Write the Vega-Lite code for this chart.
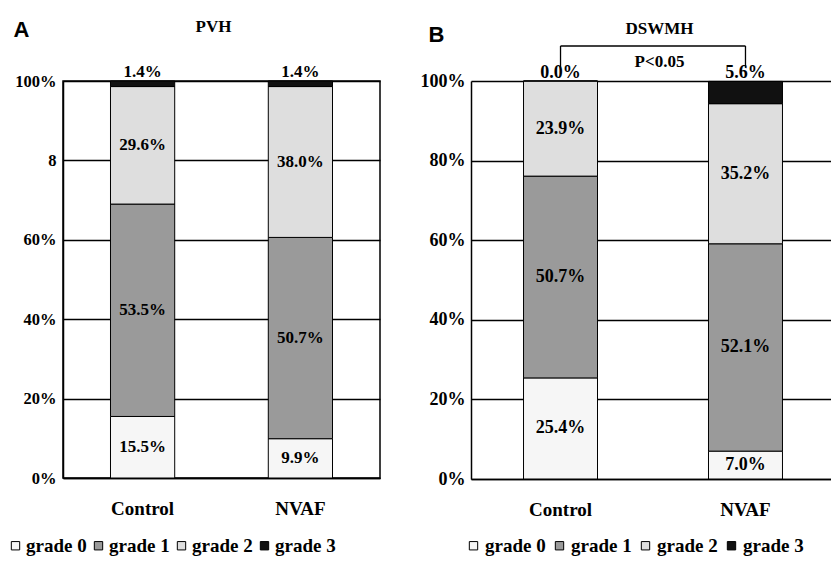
{
  "$schema": "https://vega.github.io/schema/vega-lite/v6.json",
  "padding": {"left": 5, "top": 16, "right": 0, "bottom": 0},
  "background": "white",
  "config": {
    "font": "Liberation Serif",
    "axis": {"labelColor": "black", "titleColor": "black"},
    "legend": {"labelColor": "black"}
  },
  "spacing": 39,
  "resolve": {"legend": {"color": "independent"}},
  "hconcat": [
    {
      "width": 317,
      "height": 397,
      "view": {"stroke": "black", "strokeWidth": 1.5},
      "data": {"values": [
        {"group": "Control", "grade": "grade 0", "pct": 15.5},
        {"group": "Control", "grade": "grade 1", "pct": 53.5},
        {"group": "Control", "grade": "grade 2", "pct": 29.6},
        {"group": "Control", "grade": "grade 3", "pct": 1.4},
        {"group": "NVAF", "grade": "grade 0", "pct": 9.9},
        {"group": "NVAF", "grade": "grade 1", "pct": 50.7},
        {"group": "NVAF", "grade": "grade 2", "pct": 38.0},
        {"group": "NVAF", "grade": "grade 3", "pct": 1.4}
      ]},
      "resolve": {"axis": {"x": "independent"}},
      "layer": [
        {
          "mark": {"type": "bar", "stroke": "black", "strokeWidth": 1},
          "encoding": {
            "x": {"field": "group", "type": "nominal", "sort": ["Control", "NVAF"],
              "scale": {"paddingInner": 0.593, "paddingOuter": 0.301},
              "axis": {"orient": "bottom", "title": null, "labelAngle": 0, "ticks": false, "labelPadding": 21,
                "labelFont": "Liberation Serif", "labelFontWeight": "bold", "labelFontSize": 19,
                "domainColor": "black", "domainWidth": 1.5}},
            "y": {"field": "pct", "type": "quantitative", "stack": "zero",
              "scale": {"domain": [0, 100], "nice": false},
              "axis": {"values": [0, 20, 40, 60, 80, 100],
                "labelExpr": "datum.value == 80 ? '8' : datum.value + '%'",
                "labelFont": "Liberation Serif", "labelFontWeight": "bold", "labelFontSize": 16.5,
                "labelPadding": 7, "ticks": false, "domainColor": "black", "domainWidth": 1.5,
                "grid": true, "gridColor": "black", "gridWidth": 1.3, "gridOpacity": 1,
                "title": "A", "titleAngle": 0, "titleFont": "Liberation Sans", "titleFontSize": 22,
                "titleFontWeight": "bold", "titleX": -50, "titleY": -45, "titleAlign": "left",
                "titleBaseline": "alphabetic"}},
            "color": {"field": "grade", "type": "nominal",
              "scale": {"domain": ["grade 0", "grade 1", "grade 2", "grade 3"],
                "range": ["#f6f6f6", "#9a9a9a", "#dedede", "#111111"]},
              "legend": {"orient": "none", "legendX": -57, "legendY": 455, "direction": "horizontal",
                "title": null, "symbolType": "square", "symbolSize": 70, "symbolStrokeColor": "black",
                "symbolStrokeWidth": 1, "labelFont": "Liberation Serif", "labelFontWeight": "bold",
                "labelFontSize": 19, "labelOffset": 1, "columnPadding": 2}},
            "order": {"field": "grade", "type": "ordinal", "sort": "ascending"}
          }
        },
        {
          "mark": {"type": "text", "opacity": 0},
          "encoding": {
            "x": {"field": "group", "type": "nominal", "sort": ["Control", "NVAF"],
              "axis": {"orient": "top", "title": "PVH", "labels": false, "ticks": false, "domain": false,
                "titleFont": "Liberation Serif", "titleFontWeight": "bold", "titleFontSize": 17,
                "titleX": 150, "titleY": -50, "titleAlign": "center", "titleBaseline": "alphabetic"}},
            "text": {"value": ""}
          }
        },
        {
          "transform": [
            {"stack": "pct", "groupby": ["group"], "sort": [{"field": "grade", "order": "ascending"}], "as": ["lo", "hi"]},
            {"calculate": "(datum.lo + datum.hi) / 2", "as": "mid"},
            {"calculate": "format(datum.pct, '.1f') + '%'", "as": "lab"},
            {"filter": "datum.grade != 'grade 3'"}
          ],
          "mark": {"type": "text", "font": "Liberation Serif", "fontWeight": "bold", "fontSize": 17, "baseline": "middle", "color": "black"},
          "encoding": {
            "x": {"field": "group", "type": "nominal", "sort": ["Control", "NVAF"], "axis": null},
            "y": {"field": "mid", "type": "quantitative"},
            "text": {"field": "lab"}
          }
        },
        {
          "transform": [
            {"stack": "pct", "groupby": ["group"], "sort": [{"field": "grade", "order": "ascending"}], "as": ["lo", "hi"]},
            {"calculate": "format(datum.pct, '.1f') + '%'", "as": "lab"},
            {"filter": "datum.grade == 'grade 3'"}
          ],
          "mark": {"type": "text", "font": "Liberation Serif", "fontWeight": "bold", "fontSize": 17, "baseline": "alphabetic", "dy": -4, "color": "black"},
          "encoding": {
            "x": {"field": "group", "type": "nominal", "sort": ["Control", "NVAF"], "axis": null},
            "y": {"field": "hi", "type": "quantitative"},
            "text": {"field": "lab"}
          }
        }
      ]
    },
    {
      "width": 364,
      "height": 398,
      "view": {"stroke": null},
      "data": {"values": [
        {"group": "Control", "grade": "grade 0", "pct": 25.4},
        {"group": "Control", "grade": "grade 1", "pct": 50.7},
        {"group": "Control", "grade": "grade 2", "pct": 23.9},
        {"group": "Control", "grade": "grade 3", "pct": 0.0},
        {"group": "NVAF", "grade": "grade 0", "pct": 7.0},
        {"group": "NVAF", "grade": "grade 1", "pct": 52.1},
        {"group": "NVAF", "grade": "grade 2", "pct": 35.2},
        {"group": "NVAF", "grade": "grade 3", "pct": 5.6}
      ]},
      "resolve": {"axis": {"x": "independent"}},
      "layer": [
        {
          "mark": {"type": "bar", "stroke": "black", "strokeWidth": 1},
          "encoding": {
            "x": {"field": "group", "type": "nominal", "sort": ["Control", "NVAF"],
              "scale": {"paddingInner": 0.6, "paddingOuter": 0.284},
              "axis": {"orient": "bottom", "title": null, "labelAngle": 0, "ticks": false, "labelPadding": 21,
                "labelFont": "Liberation Serif", "labelFontWeight": "bold", "labelFontSize": 19,
                "domainColor": "black", "domainWidth": 1.5}},
            "y": {"field": "pct", "type": "quantitative", "stack": "zero",
              "scale": {"domain": [0, 100], "nice": false},
              "axis": {"values": [0, 20, 40, 60, 80, 100],
                "labelExpr": "datum.value + '%'",
                "labelFont": "Liberation Serif", "labelFontWeight": "bold", "labelFontSize": 18,
                "labelPadding": 6, "ticks": false, "domainColor": "black", "domainWidth": 1.5,
                "grid": true, "gridColor": "black", "gridWidth": 1.3, "gridOpacity": 1,
                "title": "B", "titleAngle": 0, "titleFont": "Liberation Sans", "titleFontSize": 22,
                "titleFontWeight": "bold", "titleX": -43, "titleY": -40, "titleAlign": "left",
                "titleBaseline": "alphabetic"}},
            "color": {"field": "grade", "type": "nominal",
              "scale": {"domain": ["grade 0", "grade 1", "grade 2", "grade 3"],
                "range": ["#f6f6f6", "#9a9a9a", "#dedede", "#111111"]},
              "legend": {"orient": "none", "legendX": -7, "legendY": 455, "direction": "horizontal",
                "title": null, "symbolType": "square", "symbolSize": 70, "symbolStrokeColor": "black",
                "symbolStrokeWidth": 1, "labelFont": "Liberation Serif", "labelFontWeight": "bold",
                "labelFontSize": 19, "labelOffset": 2, "columnPadding": 4}},
            "order": {"field": "grade", "type": "ordinal", "sort": "ascending"}
          }
        },
        {
          "mark": {"type": "text", "opacity": 0},
          "encoding": {
            "x": {"field": "group", "type": "nominal", "sort": ["Control", "NVAF"],
              "axis": {"orient": "top", "title": ["DSWMH", "P<0.05"], "labels": false, "ticks": false, "domain": false,
                "titleFont": "Liberation Serif", "titleFontWeight": "bold", "titleFontSize": 17, "titleLineHeight": 33,
                "titleX": 188, "titleY": -48, "titleAlign": "center", "titleBaseline": "alphabetic"}},
            "text": {"value": ""}
          }
        },
        {
          "data": {"values": [{"group": "Control"}, {"group": "NVAF"}]},
          "mark": {"type": "rule", "color": "black", "strokeWidth": 1.3},
          "encoding": {
            "x": {"field": "group", "type": "nominal", "sort": ["Control", "NVAF"], "axis": null},
            "y": {"datum": 103.3},
            "y2": {"datum": 108.8}
          }
        },
        {
          "data": {"values": [{}]},
          "mark": {"type": "rule", "color": "black", "strokeWidth": 1.3},
          "encoding": {
            "x": {"datum": "Control", "axis": null},
            "x2": {"datum": "NVAF"},
            "y": {"datum": 108.8}
          }
        },
        {
          "transform": [
            {"stack": "pct", "groupby": ["group"], "sort": [{"field": "grade", "order": "ascending"}], "as": ["lo", "hi"]},
            {"calculate": "(datum.lo + datum.hi) / 2", "as": "mid"},
            {"calculate": "format(datum.pct, '.1f') + '%'", "as": "lab"},
            {"filter": "datum.grade != 'grade 3'"}
          ],
          "mark": {"type": "text", "font": "Liberation Serif", "fontWeight": "bold", "fontSize": 18, "baseline": "middle", "color": "black"},
          "encoding": {
            "x": {"field": "group", "type": "nominal", "sort": ["Control", "NVAF"], "axis": null},
            "y": {"field": "mid", "type": "quantitative"},
            "text": {"field": "lab"}
          }
        },
        {
          "transform": [
            {"stack": "pct", "groupby": ["group"], "sort": [{"field": "grade", "order": "ascending"}], "as": ["lo", "hi"]},
            {"calculate": "format(datum.pct, '.1f') + '%'", "as": "lab"},
            {"filter": "datum.grade == 'grade 3'"}
          ],
          "mark": {"type": "text", "font": "Liberation Serif", "fontWeight": "bold", "fontSize": 18, "baseline": "alphabetic", "dy": -3, "color": "black"},
          "encoding": {
            "x": {"field": "group", "type": "nominal", "sort": ["Control", "NVAF"], "axis": null},
            "y": {"field": "hi", "type": "quantitative"},
            "text": {"field": "lab"}
          }
        }
      ]
    }
  ]
}
